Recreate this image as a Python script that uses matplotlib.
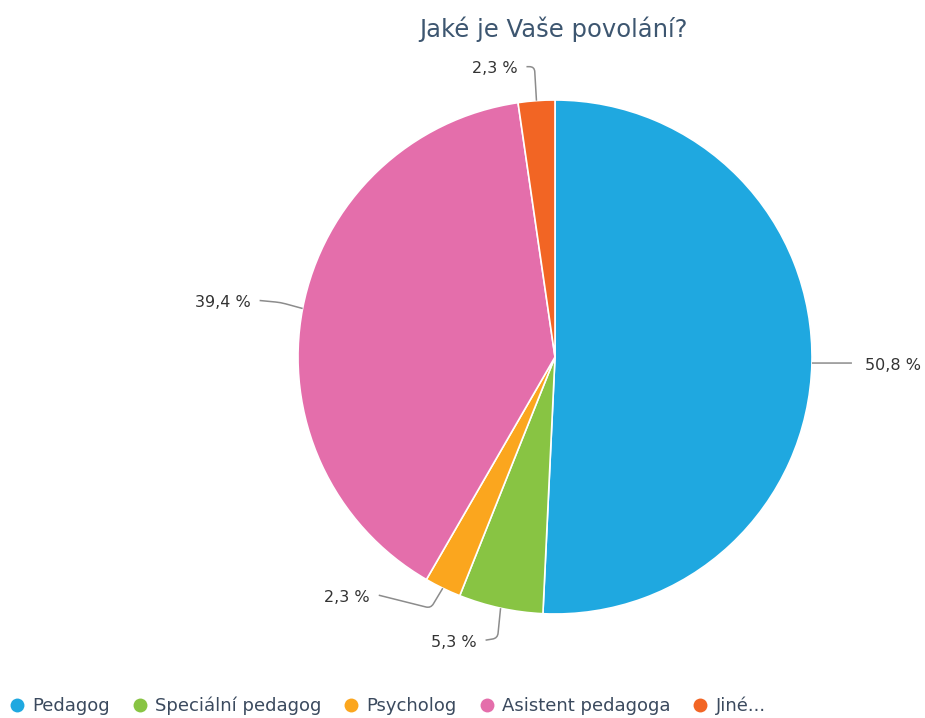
import matplotlib.pyplot as plt
import numpy as np
from matplotlib.path import Path
from matplotlib.patches import PathPatch
from matplotlib.lines import Line2D

categories = ["Pedagog", "Speciální pedagog", "Psycholog", "Asistent pedagoga", "Jiné..."]
values = [50.8, 5.3, 2.3, 39.4, 2.3]
value_labels = ["50,8 %", "5,3 %", "2,3 %", "39,4 %", "2,3 %"]
colors = ["#1fa8e0", "#88c443", "#fba61e", "#e46eab", "#f26524"]

# leader line bends (pixel offsets from the wedge edge, y grows downward)
corner_off = [(20, 0), (-3, 30), (-12, 20), (-22, -6), (-2, -34)]
end_off = [(40, 0), (-15, 32), (-64, 7), (-43, -8), (-10, -34)]
text_gap = [13, -9, -9, -9, -9]

W, H = 925, 718
cx, cy, R = 555, 357, 257

plt.rcParams['font.family'] = ['DejaVu Sans']
fig = plt.figure(figsize=(W / 100, H / 100), dpi=100)
ax = fig.add_axes([0, 0, 1, 1])
wedges, _ = ax.pie(values, colors=colors, startangle=90, counterclock=False,
                   center=(cx, H - cy), radius=R,
                   wedgeprops=dict(edgecolor="white", linewidth=1.2))
ax.set_xlim(0, W)
ax.set_ylim(0, H)
ax.axis('off')


def leader(p0, p1, p2, r=5):
    p0, p1, p2 = map(np.array, (p0, p1, p2))
    d1 = p1 - p0
    d2 = p2 - p1
    a = p1 - r * d1 / max(np.linalg.norm(d1), 1e-9)
    b = p1 + r * d2 / max(np.linalg.norm(d2), 1e-9)
    path = Path([p0, a, p1, b, p2],
                [Path.MOVETO, Path.LINETO, Path.CURVE3, Path.CURVE3, Path.LINETO])
    ax.add_patch(PathPatch(path, fill=False, edgecolor="#8c8c8c", linewidth=1.1))


for w, lab, co, eo, g in zip(wedges, value_labels, corner_off, end_off, text_gap):
    ang = np.deg2rad((w.theta1 + w.theta2) / 2)
    ex = cx + R * np.cos(ang)
    ey = (H - cy) + R * np.sin(ang)
    p1 = (ex + co[0], ey - co[1])
    p2 = (ex + eo[0], ey - eo[1])
    leader((ex, ey), p1, p2)
    ax.text(p2[0] + g, p2[1] - 2, lab, ha="left" if g > 0 else "right", va="center",
            fontsize=11.5, color="#333333")

fig.text(554 / W, 1 - 29 / H, "Jaké je Vaše povolání?", ha="center", va="center",
         fontsize=17.5, color="#3d5670")

handles = [Line2D([], [], linestyle="none", marker="o", markersize=10,
                  markerfacecolor=c, markeredgecolor="none") for c in colors]
fig.legend(handles, categories, loc="center left", bbox_to_anchor=(6 / W, 1 - 706 / H),
           ncol=5, frameon=False, handlelength=0.8, handletextpad=0.45,
           columnspacing=1.25, borderaxespad=0, borderpad=0.2,
           prop=dict(size=13), labelcolor="#3b4a5e")

fig.savefig("out.png", dpi=100)
